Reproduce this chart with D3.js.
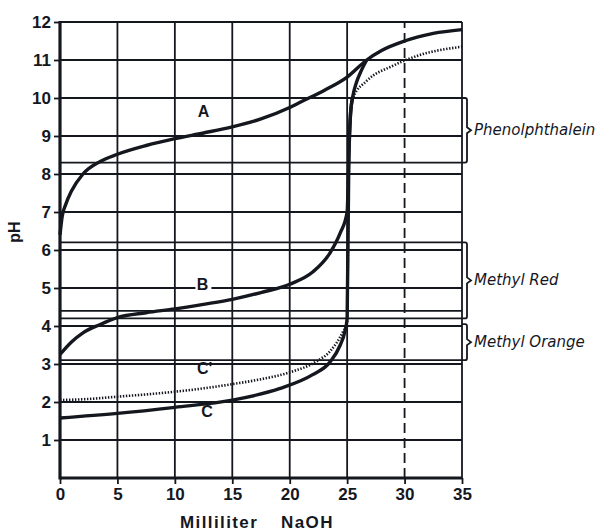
<!DOCTYPE html>
<html>
<head>
<meta charset="utf-8">
<script src="https://cdn.jsdelivr.net/npm/d3@7"></script>
<style>
  body { margin: 0; background: #fff; }
  svg { display: block; }
</style>
</head>
<body>
<script>
const WIDTH = 607;
const HEIGHT = 532;

// ml NaOH / pH
const curveA_ml = [0, 0.2, 0.5, 1, 2, 3.5, 5, 7.5, 10, 12.5, 15, 17.5, 20, 21, 23, 25, 26.7, 28, 30, 32.5, 35];
const curveA_pH = [6.4, 6.9, 7.2, 7.55, 8.0, 8.33, 8.52, 8.75, 8.93, 9.08, 9.24, 9.45, 9.75, 9.9, 10.2, 10.55, 11.0, 11.25, 11.5, 11.7, 11.8];

const curveB_ml = [0, 1, 2, 3.5, 5, 7.5, 10, 12.5, 15, 17.5, 20, 22, 23.5, 24.4, 25, 25.15, 25.3, 25.5, 25.8, 26.2, 26.7];
const curveB_pH = [3.25, 3.58, 3.82, 4.04, 4.22, 4.35, 4.45, 4.57, 4.7, 4.88, 5.1, 5.42, 5.92, 6.45, 7.0, 8.5, 9.6, 10.05, 10.4, 10.7, 11.0];

const curveC_ml = [0, 5, 10, 15, 19.1, 22, 23.5, 24.4, 24.8, 25, 25.15, 25.3, 25.5];
const curveC_pH = [1.58, 1.7, 1.86, 2.05, 2.35, 2.72, 3.05, 3.5, 3.85, 4.2, 8.5, 9.6, 10.05];

const curveC2_ml = [0, 2.5, 5, 7.5, 10, 12.5, 15, 17.5, 20, 22.4, 23.5, 24.6, 25, 25.15, 25.3, 25.5, 26.7, 29, 31, 35];
const curveC2_pH = [2.05, 2.08, 2.14, 2.2, 2.27, 2.36, 2.47, 2.6, 2.78, 3.08, 3.33, 3.83, 4.1, 8.5, 9.6, 10.0, 10.45, 10.85, 11.1, 11.35];

const xTicks = [0, 5, 10, 15, 20, 25, 30, 35];
const yTicks = [1, 2, 3, 4, 5, 6, 7, 8, 9, 10, 11, 12];

// colour change ranges of the indicators
const indicatorNames = ["Phenolphthalein", "Methyl Red", "Methyl Orange"];
const indicatorLow = [8.3, 4.2, 3.1];
const indicatorHigh = [10, 6.2, 4.4];
const bracketHigh = [10, 6.2, 4.05];

const curveLabels = ["A", "B", "C'", "C"];
const curveLabelMl = [12.5, 12.4, 12.6, 12.8];
const curveLabelPh = [9.5, 4.95, 2.75, 1.6];

const ink = "#15171f";

var svg = d3.select("body").append("svg").attr("width", WIDTH).attr("height", HEIGHT);
svg.append("rect").attr("width", WIDTH).attr("height", HEIGHT).attr("fill", "#fff");

var x = d3.scaleLinear().domain([0, 35]).range([60, 462]);
var y = d3.scaleLinear().domain([0, 12]).range([478, 22]);

var grid = svg.append("g").attr("stroke", ink).attr("fill", "none");

// horizontal grid + indicator limit lines
var hLines = yTicks.concat(indicatorLow, indicatorHigh.filter(function(v) { return yTicks.indexOf(v) < 0; }));
grid.selectAll(".hline")
  .data(hLines)
  .enter().append("line")
  .attr("x1", x(0)).attr("x2", x(35))
  .attr("y1", function(d) { return y(d); })
  .attr("y2", function(d) { return y(d); })
  .attr("stroke-width", function(d) { return d == 12 ? 2.2 : 1.8; });

grid.selectAll(".vline")
  .data(xTicks.slice(1))
  .enter().append("line")
  .attr("x1", function(d) { return x(d); })
  .attr("x2", function(d) { return x(d); })
  .attr("y1", y(0)).attr("y2", y(12))
  .attr("stroke-width", 1.8)
  .attr("stroke-dasharray", function(d) { return d == 30 ? "10,5" : null; });

// heavy axes
grid.append("line").attr("x1", x(0)).attr("x2", x(0)).attr("y1", y(0) + 1.5).attr("y2", y(12) - 1).attr("stroke-width", 3.2);
grid.append("line").attr("x1", x(0)).attr("x2", x(35)).attr("y1", y(0)).attr("y2", y(0)).attr("stroke-width", 3.2);

// brackets for the indicators
var bx = x(35) + 5;
indicatorNames.forEach(function(name, i) {
  var top = y(bracketHigh[i]), bot = y(indicatorLow[i]), mid = (top + bot) / 2;
  var p = d3.path();
  p.moveTo(x(35), top);
  p.lineTo(bx - 2, top);
  p.quadraticCurveTo(bx, top, bx, top + 2);
  p.lineTo(bx, mid - 3);
  p.lineTo(bx + 4, mid);
  p.lineTo(bx, mid + 3);
  p.lineTo(bx, bot - 2);
  p.quadraticCurveTo(bx, bot, bx - 2, bot);
  p.lineTo(x(35), bot);
  grid.append("path").attr("d", p.toString()).attr("stroke-width", 1.8);

  svg.append("text")
    .attr("x", bx + 7).attr("y", mid + 5)
    .attr("font-family", "DejaVu Sans")
    .attr("font-style", "italic")
    .attr("font-size", 15)
    .attr("fill", ink)
    .text(name);
});

// axes ticks & labels
var yAxis = svg.append("g")
  .attr("transform", "translate(" + x(0) + ",0)")
  .call(d3.axisLeft(y).tickValues(yTicks).tickSize(6).tickPadding(3).tickFormat(d3.format("d")));
var xAxis = svg.append("g")
  .attr("transform", "translate(0," + y(0) + ")")
  .call(d3.axisBottom(x).tickValues(xTicks).tickSize(6).tickPadding(4).tickFormat(d3.format("d")));
[yAxis, xAxis].forEach(function(a) {
  a.select(".domain").remove();
  a.selectAll("line").attr("stroke", ink).attr("stroke-width", 1.8);
  a.selectAll("text")
    .attr("fill", ink)
    .attr("font-family", "Liberation Sans")
    .attr("font-weight", "bold")
    .attr("font-size", 17);
});

svg.append("text")
  .attr("transform", "translate(20,232) rotate(-90)")
  .attr("text-anchor", "middle")
  .attr("font-family", "Liberation Sans")
  .attr("font-weight", "bold")
  .attr("font-size", 16)
  .attr("fill", ink)
  .text("pH");

var xl = svg.append("text")
  .attr("x", 180).attr("y", 528)
  .attr("font-family", "Liberation Sans")
  .attr("font-weight", "bold")
  .attr("font-size", 17)
  .attr("letter-spacing", 1.4)
  .attr("fill", ink);
xl.append("tspan").text("Milliliter");
xl.append("tspan").attr("x", 281).text("NaOH");

// curves
var line = d3.line()
  .x(function(d) { return x(d[0]); })
  .y(function(d) { return y(d[1]); })
  .curve(d3.curveMonotoneX);

function pairs(ml, ph) { return ml.map(function(v, i) { return [v, ph[i]]; }); }

var curves = svg.append("g").attr("fill", "none").attr("stroke", ink);
curves.append("path").attr("d", line(pairs(curveC2_ml, curveC2_pH)))
  .attr("stroke-width", 2.6).attr("stroke-dasharray", "1.4,1.6");
[ [curveA_ml, curveA_pH], [curveB_ml, curveB_pH], [curveC_ml, curveC_pH] ].forEach(function(c) {
  curves.append("path").attr("d", line(pairs(c[0], c[1])))
    .attr("stroke-width", 3.4).attr("stroke-linejoin", "round");
});

// curve letters
var lbl = svg.append("g");
curveLabels.forEach(function(t, i) {
  var px = x(curveLabelMl[i]), py = y(curveLabelPh[i]);
  if (t == "B") {
    lbl.append("rect").attr("x", px - 7).attr("y", py - 13).attr("width", 16).attr("height", 16).attr("fill", "#fff");
  }
  lbl.append("text")
    .attr("x", px).attr("y", py)
    .attr("text-anchor", "middle")
    .attr("font-family", "Liberation Sans")
    .attr("font-weight", "bold")
    .attr("font-size", 16)
    .attr("fill", ink)
    .text(t);
});
</script>
</body>
</html>
